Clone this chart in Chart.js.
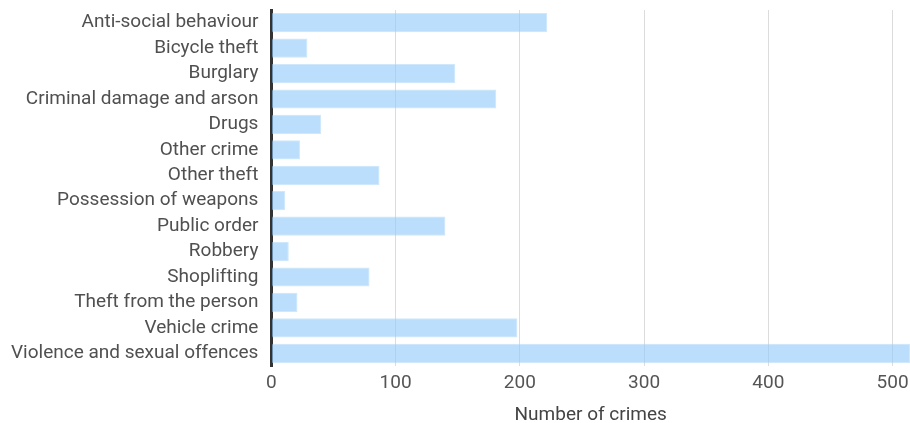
<!DOCTYPE html>
<html>
<head>
<meta charset="utf-8">
<script src="https://cdn.jsdelivr.net/npm/chart.js@4"></script>
<style>
  html, body { margin: 0; padding: 0; background: #fff; }
  #wrap { position: relative; width: 910px; height: 423px; }
</style>
</head>
<body>
<div id="wrap"><canvas id="crimeChart"></canvas></div>
<script>
// crime categories and counts
const categories = [
    'Anti-social behaviour',
    'Bicycle theft',
    'Burglary',
    'Criminal damage and arson',
    'Drugs',
    'Other crime',
    'Other theft',
    'Possession of weapons',
    'Public order',
    'Robbery',
    'Shoplifting',
    'Theft from the person',
    'Vehicle crime',
    'Violence and sexual offences'
];
const crimeCounts = [222, 29, 148, 181, 40, 23, 87, 11, 140, 14, 79, 21, 198, 514];
const xTicks = [0, 100, 200, 300, 400, 500];
const xTitle = 'Number of crimes';

const ctx = document.getElementById('crimeChart').getContext('2d');
new Chart(ctx, {
    type: 'bar',
    data: {
        labels: categories,
        datasets: [{
            label: xTitle,
            data: crimeCounts,
            backgroundColor: 'rgba(144, 202, 249, 0.62)',
            borderColor: 'rgba(160, 210, 250, 0.5)',
            borderWidth: 1,
            categoryPercentage: 0.82,
            barPercentage: 0.92
        }]
    },
    options: {
        indexAxis: 'y',
        responsive: true,
        maintainAspectRatio: false,
        animation: false,
        plugins: {
            legend: { display: false },
            tooltip: { enabled: false }
        },
        layout: {
            padding: { left: 6, right: 0, top: 10, bottom: 0 }
        },
        scales: {
            x: {
                min: 0,
                max: Math.max(...crimeCounts),
                afterBuildTicks: (axis) => {
                    axis.ticks = xTicks.map(v => ({ value: v }));
                },
                afterFit: (axis) => {
                    axis.paddingRight = 0;
                },
                grid: {
                    color: '#dcdcdc',
                    lineWidth: 1,
                    drawTicks: false
                },
                border: { display: false },
                ticks: {
                    color: '#555',
                    padding: 6,
                    font: { family: 'Roboto', size: 19 }
                },
                title: {
                    display: true,
                    text: xTitle,
                    color: '#444',
                    padding: { top: 7, bottom: 0 },
                    font: { family: 'Roboto', size: 19, lineHeight: 0.8 }
                }
            },
            y: {
                afterFit: (axis) => {
                    axis.paddingTop = 0;
                    axis.paddingBottom = 0;
                },
                grid: { display: false },
                border: { display: true, color: '#333', width: 3 },
                ticks: {
                    color: '#505050',
                    padding: 5,
                    autoSkip: false,
                    font: { family: 'Roboto', size: 19 }
                }
            }
        }
    }
});
</script>
</body>
</html>
